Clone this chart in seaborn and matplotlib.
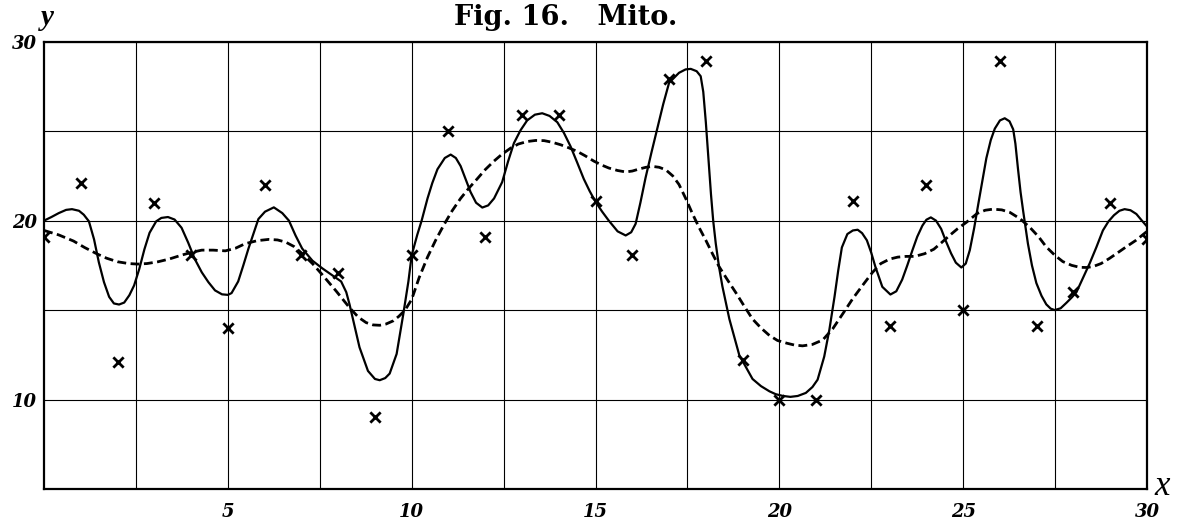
import matplotlib
matplotlib.use("Agg")
import matplotlib.pyplot as plt
import pandas as pd
import seaborn as sns

# Daily observations
obs_x = list(range(31))
obs_y = [19.1, 22.1, 12.1, 21.0, 18.1, 14.0, 22.0, 18.1, 17.1, 9.0,
         18.1, 25.0, 19.1, 25.9, 25.9, 21.1, 18.1, 27.9, 28.9, 12.2,
         10.0, 10.0, 21.1, 14.1, 22.0, 15.0, 28.9, 14.1, 16.0, 21.0, 19.0]

# Curve with many terms (solid)
full_x = [0.0, 0.2, 0.4, 0.6, 0.76, 0.95, 1.08, 1.22, 1.36, 1.49, 1.63, 1.77, 1.9, 2.04,
          2.18, 2.32, 2.45, 2.59, 2.73, 2.87, 3.05, 3.19, 3.37, 3.55, 3.74, 3.92, 4.1,
          4.29, 4.47, 4.65, 4.84, 5.0, 5.1, 5.28, 5.42, 5.56, 5.7, 5.83, 6.01, 6.25,
          6.48, 6.66, 6.84, 7.02, 7.3, 7.57, 7.85, 8.08, 8.22, 8.31, 8.44, 8.58, 8.81,
          9.0, 9.13, 9.28, 9.4, 9.59, 9.77, 9.91, 10.0, 10.15, 10.27, 10.43, 10.56,
          10.7, 10.9, 11.06, 11.2, 11.33, 11.47, 11.6, 11.75, 11.92, 12.08, 12.24,
          12.46, 12.62, 12.78, 12.96, 13.14, 13.35, 13.55, 13.75, 13.96, 14.14, 14.32,
          14.5, 14.68, 14.84, 15.0, 15.18, 15.36, 15.6, 15.82, 15.97, 16.09, 16.22,
          16.36, 16.52, 16.68, 16.84, 17.0, 17.27, 17.45, 17.59, 17.75, 17.86, 17.93,
          18.0, 18.07, 18.14, 18.2, 18.27, 18.36, 18.45, 18.64, 18.91, 19.27, 19.5,
          19.73, 19.9, 20.1, 20.3, 20.5, 20.72, 20.9, 21.04, 21.22, 21.36, 21.5, 21.6,
          21.7, 21.85, 22.0, 22.13, 22.25, 22.38, 22.5, 22.61, 22.8, 23.02, 23.18,
          23.34, 23.48, 23.62, 23.75, 23.89, 24.0, 24.12, 24.26, 24.4, 24.53, 24.67,
          24.8, 24.95, 25.07, 25.18, 25.3, 25.41, 25.52, 25.63, 25.75, 25.86, 26.0,
          26.13, 26.26, 26.36, 26.42, 26.49, 26.56, 26.63, 26.76, 26.87, 26.99, 27.13,
          27.26, 27.38, 27.49, 27.65, 27.81, 27.95, 28.08, 28.26, 28.44, 28.62, 28.8,
          28.95, 29.1, 29.25, 29.39, 29.55, 29.71, 29.86, 30.0]
full_y = [20.0, 20.2, 20.42, 20.6, 20.64, 20.55, 20.33, 19.96, 18.95, 17.67, 16.56, 15.74,
          15.37, 15.31, 15.42, 15.83, 16.38, 17.3, 18.4, 19.32, 19.96, 20.15, 20.2,
          20.06, 19.6, 18.77, 17.85, 17.11, 16.56, 16.1, 15.88, 15.85, 15.95, 16.6,
          17.5, 18.44, 19.3, 20.09, 20.5, 20.74, 20.42, 20.0, 19.17, 18.44, 17.76,
          17.33, 16.93, 16.6, 16.0, 15.31, 14.17, 12.92, 11.6, 11.15, 11.08, 11.2,
          11.45, 12.55, 14.76, 16.6, 18.07, 19.2, 20.0, 21.24, 22.1, 22.87, 23.5,
          23.69, 23.5, 23.05, 22.3, 21.6, 21.0, 20.73, 20.85, 21.24, 22.15, 23.3,
          24.33, 25.05, 25.6, 25.92, 26.0, 25.85, 25.5, 24.9, 24.15, 23.25, 22.33,
          21.65, 21.05, 20.5, 20.0, 19.4, 19.17, 19.35, 19.82, 21.0, 22.39, 23.8,
          25.14, 26.5, 27.7, 28.26, 28.45, 28.48, 28.35, 28.07, 27.2, 25.5, 23.5,
          21.47, 20.0, 18.72, 17.4, 16.33, 14.5, 12.48, 11.15, 10.75, 10.46, 10.3,
          10.2, 10.15, 10.2, 10.37, 10.7, 11.11, 12.4, 13.9, 15.74, 17.2, 18.5,
          19.25, 19.45, 19.49, 19.3, 18.9, 18.2, 17.43, 16.3, 15.87, 16.05, 16.7,
          17.5, 18.35, 19.1, 19.72, 20.05, 20.18, 20.0, 19.54, 18.85, 18.17, 17.65,
          17.38, 17.6, 18.35, 19.6, 20.92, 22.2, 23.49, 24.5, 25.14, 25.6, 25.72,
          25.55, 25.1, 24.3, 22.9, 21.6, 20.55, 18.72, 17.5, 16.51, 15.8, 15.32,
          15.08, 15.0, 15.1, 15.41, 15.7, 16.0, 16.8, 17.61, 18.5, 19.45, 19.95,
          20.3, 20.55, 20.64, 20.58, 20.37, 20.0, 19.67]

# Curve with few terms (dashed)
smooth_x = [0.0, 0.4, 0.8, 1.1, 1.45, 1.7, 2.0, 2.3, 2.55, 2.8, 3.1, 3.4, 3.74, 4.0, 4.29,
            4.6, 4.93, 5.2, 5.47, 5.8, 6.11, 6.35, 6.57, 6.8, 7.02, 7.3, 7.57, 7.95,
            8.31, 8.55, 8.76, 8.95, 9.13, 9.3, 9.5, 9.65, 9.82, 10.0, 10.2, 10.43,
            10.65, 10.88, 11.1, 11.33, 11.55, 11.78, 12.0, 12.24, 12.45, 12.69, 12.9,
            13.14, 13.37, 13.6, 13.82, 14.05, 14.27, 14.5, 14.72, 14.95, 15.15, 15.36,
            15.6, 15.82, 16.0, 16.18, 16.37, 16.55, 16.73, 16.91, 17.1, 17.27, 17.45,
            17.64, 17.82, 18.0, 18.18, 18.36, 18.6, 18.82, 19.05, 19.27, 19.5, 19.73,
            19.95, 20.2, 20.4, 20.63, 20.9, 21.18, 21.45, 21.73, 22.0, 22.3, 22.53,
            22.76, 23.0, 23.22, 23.45, 23.68, 23.95, 24.2, 24.4, 24.63, 24.85, 25.09,
            25.38, 25.6, 25.81, 26.05, 26.27, 26.55, 26.81, 27.05, 27.26, 27.5, 27.71,
            27.95, 28.17, 28.35, 28.53, 28.75, 28.98, 29.2, 29.43, 29.7, 30.0]
smooth_y = [19.45, 19.2, 18.86, 18.5, 18.13, 17.9, 17.7, 17.6, 17.57, 17.6, 17.7, 17.85,
            18.07, 18.22, 18.35, 18.35, 18.31, 18.45, 18.71, 18.88, 18.95, 18.92, 18.8,
            18.55, 18.16, 17.6, 16.97, 16.05, 15.13, 14.6, 14.3, 14.17, 14.15, 14.22,
            14.4, 14.65, 15.0, 15.6, 16.8, 17.96, 18.9, 19.78, 20.55, 21.24, 21.8,
            22.33, 22.85, 23.33, 23.7, 24.05, 24.28, 24.42, 24.48, 24.47, 24.38, 24.24,
            24.07, 23.87, 23.62, 23.33, 23.12, 22.94, 22.8, 22.72, 22.77, 22.88, 22.98,
            23.03, 22.98, 22.84, 22.5, 22.02, 21.25, 20.37, 19.6, 18.9, 18.15, 17.43,
            16.65, 15.96, 15.2, 14.5, 14.0, 13.58, 13.3, 13.15, 13.05, 13.0, 13.08,
            13.33, 13.95, 14.81, 15.65, 16.48, 17.1, 17.6, 17.85, 17.96, 18.0, 18.0,
            18.15, 18.4, 18.75, 19.17, 19.55, 19.91, 20.4, 20.58, 20.64, 20.6, 20.46,
            20.1, 19.63, 19.1, 18.53, 18.05, 17.71, 17.5, 17.39, 17.38, 17.43, 17.6,
            17.89, 18.2, 18.53, 18.9, 19.4]

x_ticks = [5, 10, 15, 20, 25, 30]
y_ticks = [10, 20, 30]

sns.set_style("white")
plt.rcParams["font.family"] = ["DejaVu Serif"]
plt.rcParams["text.color"] = "black"
plt.rcParams["xtick.color"] = "black"
plt.rcParams["ytick.color"] = "black"

fig = plt.figure(figsize=(11.78, 5.23), dpi=100)
ax = fig.add_axes([0.0374, 0.065, 0.9363, 0.8553])

obs = pd.DataFrame({"x": obs_x, "y": obs_y})
full = pd.DataFrame({"x": full_x, "y": full_y})
smooth = pd.DataFrame({"x": smooth_x, "y": smooth_y})

sns.lineplot(data=smooth, x="x", y="y", sort=False, estimator=None, ax=ax,
             color="black", linewidth=2.0, linestyle=(0, (3.2, 1.6)), zorder=3)
sns.lineplot(data=full, x="x", y="y", sort=False, estimator=None, ax=ax,
             color="black", linewidth=1.6, zorder=4)
sns.scatterplot(data=obs, x="x", y="y", marker="x", s=55, color="black",
                linewidth=2.0, ax=ax, zorder=5)

ax.set_xlim(0, 30)
ax.set_ylim(5, 30)
ax.set_xticks(x_ticks)
ax.set_xticks([2.5, 7.5, 12.5, 17.5, 22.5, 27.5], minor=True)
ax.set_yticks(y_ticks)
ax.set_yticks([15, 25], minor=True)
ax.grid(True, which="both", color="black", linewidth=0.8)
ax.tick_params(which="both", length=0, colors="black")
ax.tick_params(axis="y", pad=5)
ax.tick_params(axis="x", pad=10)
tick_font = dict(family="DejaVu Serif", weight="bold", style="italic", size=13,
                 color="black")
ax.set_xticklabels([str(v) for v in x_ticks], fontdict=tick_font)
ax.set_yticklabels([str(v) for v in y_ticks], fontdict=tick_font)
ax.set_xlabel("")
ax.set_ylabel("")
for sp in ax.spines.values():
    sp.set_color("black")
    sp.set_linewidth(1.6)

fig.text(0.4805, 0.966, "Fig. 16.   Mito.", ha="center", va="center",
         family="DejaVu Serif", weight="bold", size=19.5, color="black")
fig.text(0.040, 0.966, "y", ha="center", va="center",
         family="Liberation Serif", style="italic", weight="bold", size=21,
         color="black")
fig.text(0.9865, 0.070, "x", ha="center", va="center",
         family="Liberation Serif", style="italic", size=25,
         color="black")

fig.savefig("out.png", dpi=100, facecolor="white")
